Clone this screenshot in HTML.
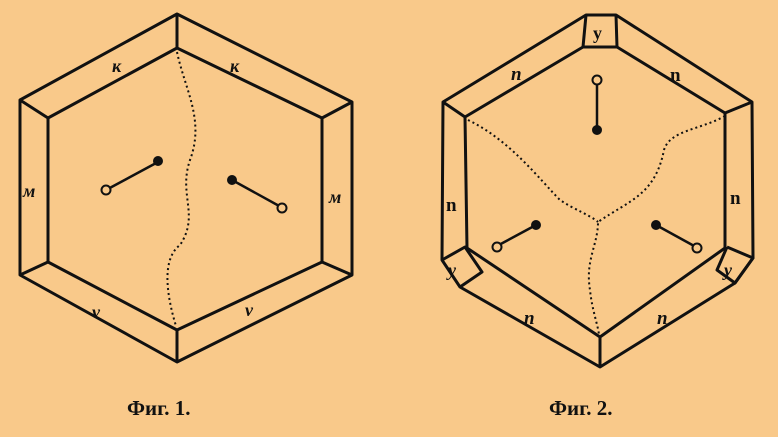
<!DOCTYPE html>
<html><head><meta charset="utf-8"><style>
html,body{margin:0;padding:0;background:#f9c98a;}
svg{display:block}
text{font-family:"Liberation Serif",serif;font-weight:bold;fill:#111}
</style></head><body>
<svg width="778" height="437" viewBox="0 0 778 437">
<rect width="778" height="437" fill="#f9c98a"/>
<g stroke="#111" stroke-width="3" fill="none" stroke-linejoin="round">
  <polygon points="177,14 352,102 352,275 177,362 20,275 20,100"/>
  <polygon points="177,48 322,118 322,262 177,330 48,262 48,118"/>
  <line x1="177" y1="14" x2="177" y2="48"/><line x1="352" y1="102" x2="322" y2="118"/>
  <line x1="352" y1="275" x2="322" y2="262"/><line x1="177" y1="362" x2="177" y2="330"/>
  <line x1="20" y1="275" x2="48" y2="262"/><line x1="20" y1="100" x2="48" y2="118"/>
  <path d="M177,52 C185,90 205,120 190,160 C178,195 200,215 180,245 C160,260 168,300 176,326" stroke-width="2" stroke-dasharray="2,3"/>
  <line x1="106" y1="190" x2="158" y2="162" stroke-width="2.5"/>
  <circle cx="106" cy="190" r="4.5" fill="#f9c98a" stroke-width="2"/><circle cx="158" cy="161" r="4.5" fill="#111" stroke-width="1"/>
  <line x1="232" y1="180" x2="281" y2="207" stroke-width="2.5"/>
  <circle cx="232" cy="180" r="4.5" fill="#111" stroke-width="1"/><circle cx="282" cy="208" r="4.5" fill="#f9c98a" stroke-width="2"/>
</g>
<text x="112" y="72" font-size="18" font-style="italic">к</text>
<text x="230" y="72" font-size="18" font-style="italic">к</text>
<text x="23" y="197" font-size="18" font-style="italic">м</text>
<text x="329" y="203" font-size="18" font-style="italic">м</text>
<text x="92" y="318" font-size="18" font-style="italic">v</text>
<text x="245" y="316" font-size="18" font-style="italic">v</text>
<text x="127" y="415" font-size="21">Фиг. 1.</text>

<g stroke="#111" stroke-width="3" fill="none" stroke-linejoin="round">
  <polygon points="586,15 616,15 752,102 753,258 735,283 600,367 460,287 442,260 443,102"/>
  <polygon points="583,47 617,47 725,113 725,248 600,337 467,248 465,117"/>
  <line x1="586" y1="15" x2="583" y2="47"/><line x1="616" y1="15" x2="617" y2="47"/>
  <line x1="752" y1="102" x2="725" y2="113"/><line x1="443" y1="102" x2="465" y2="117"/>
  <line x1="600" y1="367" x2="600" y2="337"/>
  <polyline points="442,260 465,247 482,272 460,287"/>
  <polyline points="727,247 753,258 735,283 717,270 727,247"/>
  <path d="M468,120 C510,140 540,180 560,200 C575,210 590,215 598,222 M725,116 C700,130 670,130 664,150 C655,195 630,200 598,222 C598,245 585,260 590,290 C592,310 598,325 599,335" stroke-width="2" stroke-dasharray="2,3"/>
  <line x1="597" y1="82" x2="597" y2="128" stroke-width="2.5"/>
  <circle cx="597" cy="80" r="4.5" fill="#f9c98a" stroke-width="2"/><circle cx="597" cy="130" r="4.5" fill="#111" stroke-width="1"/>
  <line x1="497" y1="246" x2="536" y2="225" stroke-width="2.5"/>
  <circle cx="497" cy="247" r="4.5" fill="#f9c98a" stroke-width="2"/><circle cx="536" cy="225" r="4.5" fill="#111" stroke-width="1"/>
  <line x1="656" y1="225" x2="696" y2="247" stroke-width="2.5"/>
  <circle cx="656" cy="225" r="4.5" fill="#111" stroke-width="1"/><circle cx="697" cy="248" r="4.5" fill="#f9c98a" stroke-width="2"/>
</g>
<text x="593" y="39" font-size="18">y</text>
<text x="448" y="276" font-size="18" font-style="italic">y</text>
<text x="724" y="276" font-size="18" font-style="italic">y</text>
<text x="511" y="80" font-size="19" font-style="italic">n</text>
<text x="670" y="81" font-size="19">n</text>
<text x="446" y="211" font-size="19">n</text>
<text x="730" y="204" font-size="19">n</text>
<text x="524" y="324" font-size="19" font-style="italic">n</text>
<text x="657" y="324" font-size="19" font-style="italic">n</text>
<text x="549" y="415" font-size="21">Фиг. 2.</text>
</svg>
</body></html>
